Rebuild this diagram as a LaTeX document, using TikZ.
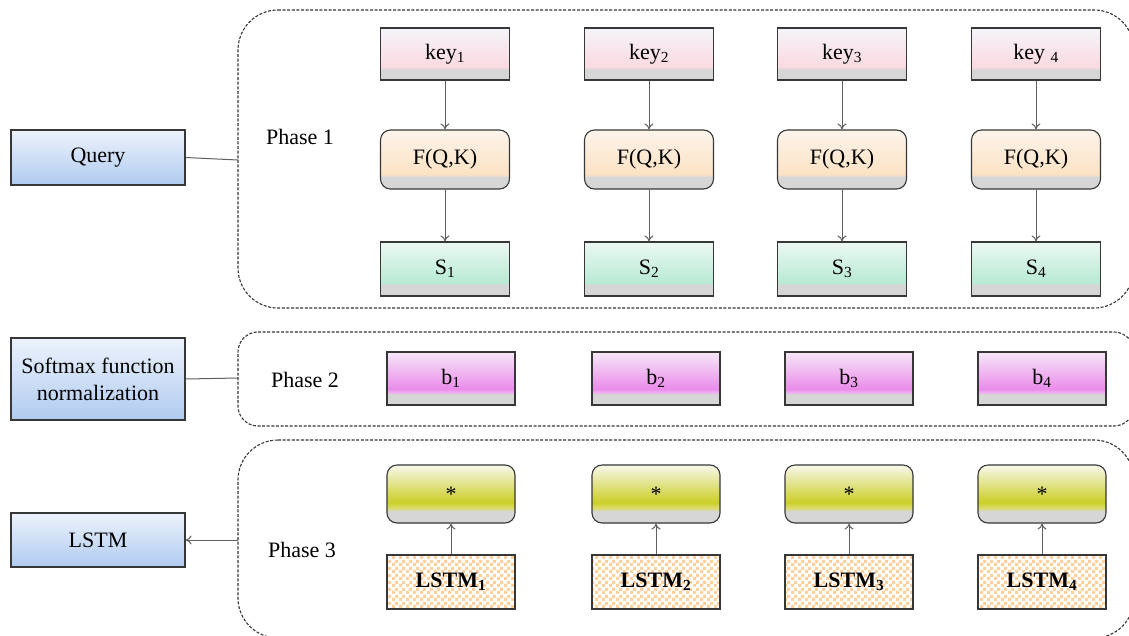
\documentclass[tikz,border=0pt]{standalone}
\usepackage{fontspec}
\setmainfont{Liberation Serif}
\usetikzlibrary{arrows.meta,patterns}
\definecolor{bord}{RGB}{55,55,55}
\definecolor{arr}{RGB}{95,95,95}
\definecolor{gband}{RGB}{214,214,214}
\definecolor{keyc}{RGB}{250,218,224}
\definecolor{keyt}{RGB}{244,244,250}
\definecolor{fc}{RGB}{252,226,196}
\definecolor{ft}{RGB}{252,244,236}
\definecolor{sc}{RGB}{184,234,212}
\definecolor{st}{RGB}{236,248,242}
\definecolor{bc}{RGB}{234,140,234}
\definecolor{bt}{RGB}{246,232,248}
\definecolor{yc}{RGB}{204,206,40}
\definecolor{yt}{RGB}{248,248,236}
\definecolor{qb}{RGB}{176,202,240}
\definecolor{qt}{RGB}{236,243,252}
\definecolor{chk}{RGB}{255,208,156}
\pgfdeclareverticalshading{keysh}{100bp}{color(0bp)=(gband); color(35bp)=(gband); color(37.5bp)=(keyc); color(75bp)=(keyt); color(100bp)=(keyt)}
\pgfdeclareverticalshading{fsh}{100bp}{color(0bp)=(gband); color(35bp)=(gband); color(37.5bp)=(fc); color(75bp)=(ft); color(100bp)=(ft)}
\pgfdeclareverticalshading{ssh}{100bp}{color(0bp)=(gband); color(35bp)=(gband); color(37.5bp)=(sc); color(75bp)=(st); color(100bp)=(st)}
\pgfdeclareverticalshading{bsh}{100bp}{color(0bp)=(gband); color(35bp)=(gband); color(37bp)=(bc!70!white); color(40bp)=(bc); color(75bp)=(bt); color(100bp)=(bt)}
\pgfdeclareverticalshading{ysh}{100bp}{color(0bp)=(gband); color(35bp)=(gband); color(38bp)=(yc!70!white); color(43bp)=(yc); color(75bp)=(yt); color(100bp)=(yt)}
\pgfdeclareverticalshading{qsh}{100bp}{color(0bp)=(qb); color(25bp)=(qb); color(75bp)=(qt); color(100bp)=(qt)}
\pgfdeclarepatternformonly{mychecker}{\pgfqpoint{0pt}{0pt}}{\pgfqpoint{7pt}{7pt}}{\pgfqpoint{7pt}{7pt}}{%
  \pgfpathrectangle{\pgfqpoint{0pt}{0pt}}{\pgfqpoint{3.5pt}{3.5pt}}%
  \pgfpathrectangle{\pgfqpoint{3.5pt}{3.5pt}}{\pgfqpoint{3.5pt}{3.5pt}}%
  \pgfusepath{fill}}
\tikzset{
  basebox/.style={draw=bord, line width=1.1pt, inner sep=0pt, font=\fontsize{22}{25}\selectfont},
  keybox/.style={basebox, shading=keysh, minimum width=129, minimum height=52},
  fbox/.style={basebox, shading=fsh, rounded corners=10, minimum width=129, minimum height=59},
  sbox/.style={basebox, shading=ssh, minimum width=129, minimum height=54},
  bbox/.style={basebox, shading=bsh, minimum width=128, minimum height=53},
  ybox/.style={basebox, shading=ysh, rounded corners=10, minimum width=128, minimum height=58},
  lbox/.style={basebox, preaction={fill=white}, pattern=mychecker, pattern color=chk, minimum width=128, minimum height=54, font=\fontsize{22}{25}\selectfont\bfseries},
  qbox/.style={basebox, shading=qsh, minimum width=174, align=center, font=\fontsize{22}{27}\selectfont},
  phase/.style={draw=bord, line width=1.1pt, dash pattern=on 3pt off 1.6pt},
  plabel/.style={font=\fontsize{22}{25}\selectfont},
  conn/.style={draw=arr, line width=1pt},
  arrow/.style={conn, -{To[length=6pt,width=9pt]}}
}
\begin{document}
\begin{tikzpicture}[x=1pt,y=-1pt]
\clip (0,0) rectangle (1129,635);
\fill[white] (0,0) rectangle (1129,635);
% containers
\draw[phase] (238,10) [rounded corners=40] -- (1134,10) -- (1134,308) -- (238,308) -- cycle;
\draw[phase] (238,332) [rounded corners=20] -- (1134,332) -- (1134,426) -- (238,426) -- cycle;
\draw[phase] (238,440) [rounded corners=40] -- (1134,440) -- (1134,638) -- (238,638) -- cycle;
\coordinate (c1) at (238,160);
\coordinate (c2) at (238,378);
\coordinate (c3) at (238,540);
% left boxes
\node[qbox, minimum height=55] (query) at (98,157.5) {Query};
\node[qbox, minimum height=82] (soft) at (98,379) {Softmax function\\normalization};
\node[qbox, minimum height=54] (lstm) at (98,540) {LSTM};
\draw[conn] (query.east) -- (c1);
\draw[conn] (soft.east) -- (c2);
\draw[arrow] (c3) -- (lstm.east);
% phase labels
\node[plabel] (ph1) at (300,137) {Phase 1};
\node[plabel] (ph2) at (305,380) {Phase 2};
\node[plabel] (ph3) at (302,550) {Phase 3};
% phase 1
\node[keybox] (k1) at (445,54) {key\textsubscript{1}};
\node[keybox] (k2) at (649,54) {key\textsubscript{2}};
\node[keybox] (k3) at (842,54) {key\textsubscript{3}};
\node[keybox] (k4) at (1036,54) {key \textsubscript{4}};
\foreach \i/\x in {1/445,2/649,3/842,4/1036}{
  \node[fbox] (f\i) at (\x,159.5) {F(Q,K)};
  \node[sbox] (s\i) at (\x,269) {S\textsubscript{\i}};
  \draw[arrow] (k\i.south) -- (f\i.north);
  \draw[arrow] (f\i.south) -- (s\i.north);
}
% phase 2 and 3
\foreach \i/\x in {1/451,2/656,3/849,4/1042}{
  \node[bbox] (b\i) at (\x,378.5) {b\textsubscript{\i}};
  \node[ybox] (y\i) at (\x,494) {*};
  \node[lbox] (l\i) at (\x,582) {LSTM\textsubscript{\i}};
  \draw[arrow] (l\i.north) -- (y\i.south);
}
\end{tikzpicture}
\end{document}
